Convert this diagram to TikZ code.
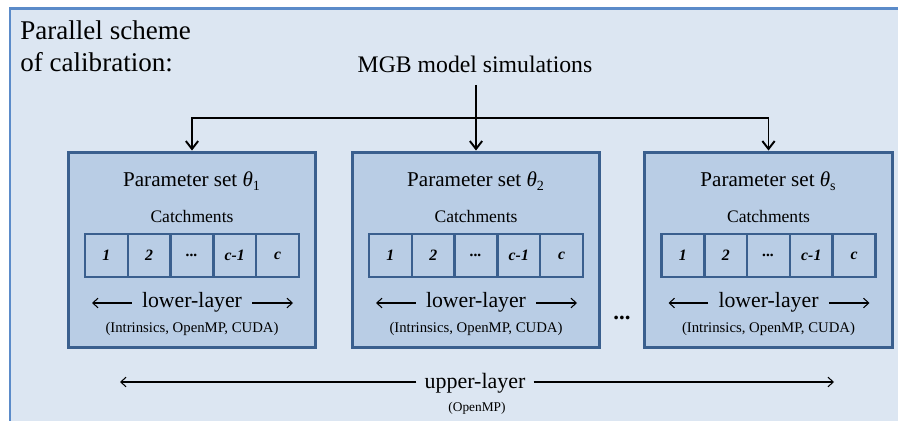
\documentclass[tikz,border=0pt]{standalone}
\usepackage{fontspec}
\setmainfont{Liberation Serif}
\usetikzlibrary{arrows.meta}
\definecolor{outerfill}{HTML}{DCE6F2}
\definecolor{outerline}{HTML}{5B8BC9}
\definecolor{boxfill}{HTML}{B9CDE5}
\definecolor{boxline}{HTML}{3A5F8E}
\tikzset{
  outerbox/.style={fill=outerfill, draw=outerline, line width=1.7pt},
  pbox/.style={draw=boxline, fill=boxfill, line width=1.7pt, minimum width=4.96cm, minimum height=3.92cm, inner sep=0pt},
  cellbox/.style={draw=boxline, fill=boxfill, line width=1.4pt, minimum width=0.856cm, minimum height=0.86cm, inner sep=0pt, font=\fontsize{9}{10}\selectfont\bfseries\itshape},
  conn/.style={line width=1.1pt, -{Straight Barb[length=4.5pt,width=7pt]}},
  thinarrow/.style={line width=0.6pt, -{Straight Barb[length=3pt,width=5.5pt]}},
  txt/.style={inner sep=0pt, anchor=base},
}
\begin{document}
\begin{tikzpicture}[x=0.02cm, y=-0.02cm]
\clip (0,0) rectangle (898,421);
\fill[white] (0,0) rectangle (898,421);
\draw[outerbox] (10,9) rectangle (930,450);
\node[txt, anchor=base west, font=\fontsize{15.4}{18}\selectfont] (t1) at (20,40) {Parallel scheme};
\node[txt, anchor=base west, font=\fontsize{15.4}{18}\selectfont] (t2) at (20,72) {of calibration:};
\node[txt, font=\fontsize{13.5}{16}\selectfont] (mgb) at (475,73) {MGB model simulations};
\coordinate (hl) at (476,118);
\coordinate (mgbout) at (476,85);
\foreach \i/\cx/\sub in {1/192/1, 2/476/2, 3/768.5/s} {
  \node[pbox] (box\i) at (\cx,250) {};
  \node[txt, font=\fontsize{12}{14}\selectfont] (ps\i) at (\cx,187) {Parameter set \textit{θ}\textsubscript{\sub}};
  \node[txt, font=\fontsize{10}{12}\selectfont] (ca\i) at (\cx,223) {Catchments};
  \node[cellbox] (c\i a) at (\cx-85.6,255.5) {1};
  \node[cellbox] (c\i b) at (\cx-42.8,255.5) {2};
  \node[cellbox] (c\i c) at (\cx,255.5) {...};
  \node[cellbox] (c\i d) at (\cx+42.8,255.5) {c-1};
  \node[cellbox] (c\i e) at (\cx+85.6,255.5) {c};
  \node[txt, font=\fontsize{12.4}{14}\selectfont] (ll\i) at (\cx,308) {lower-layer};
  \coordinate (lla\i) at (\cx-100,303);
  \coordinate (llb\i) at (\cx+101,303);
  \draw[thinarrow] (ll\i.west |- lla\i) ++(-10,0) -- (lla\i);
  \draw[thinarrow] (ll\i.east |- llb\i) ++(10,0) -- (llb\i);
  \node[txt, font=\fontsize{8.4}{10}\selectfont] (in\i) at (\cx,333) {(Intrinsics, OpenMP, CUDA)};
}
\draw[line width=1.1pt] (box1.north |- hl) -- (box3.north |- hl);
\draw[conn] (mgbout) -- (box2.north);
\draw[conn] (hl) -| (box1.north);
\draw[conn] (hl) -| (box3.north);
\node[txt, font=\fontsize{13}{14}\selectfont\bfseries] (dots) at (622,320) {...};
\node[txt, font=\fontsize{12.5}{14}\selectfont] (ul) at (475,389) {upper-layer};
\coordinate (ula) at (120,382);
\coordinate (ulb) at (834,382);
\draw[thinarrow] (ul.west |- ula) ++(-8,0) -- (ula);
\draw[thinarrow] (ul.east |- ulb) ++(8,0) -- (ulb);
\node[txt, font=\fontsize{7.6}{9}\selectfont] (om) at (477,412) {(OpenMP)};
\end{tikzpicture}
\end{document}
